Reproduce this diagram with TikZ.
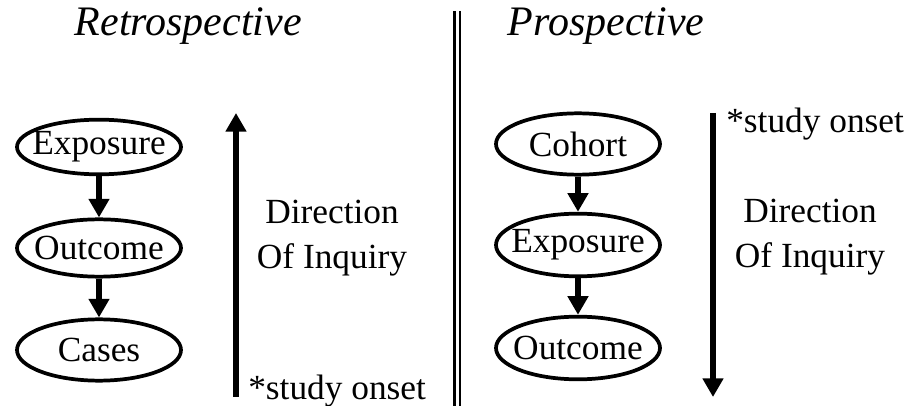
\documentclass[tikz,border=0pt]{standalone}
\usepackage{fontspec}
\setmainfont{Liberation Serif}
\usetikzlibrary{shapes.geometric,arrows.meta}
\begin{document}
\begin{tikzpicture}[x=0.75pt, y=-0.75pt, font=\fontsize{26.5}{33.5}\selectfont, line join=round, >={Triangle[width=15pt,length=14pt]},
	oval/.style={ellipse, draw, line width=2.8pt, inner xsep=-10pt, inner ysep=0pt, minimum width=123pt},
	flow/.style={->, line width=4.2pt},
	heading/.style={font=\fontsize{31.5}{37}\selectfont\itshape, anchor=base west}]
			\useasboundingbox (0,0) rectangle (908,406);
			\draw[double, line width=1.9pt, double distance=2.25pt] (457,11)--(457,406);
			% retrospective
			\node (retro) at (70,36)[heading]{Retrospective};
			\node (expL) at (99,147)[oval, minimum height=41pt]{Exposure};
			\node (outL) at (99,248)[oval, minimum height=43pt]{Outcome};
			\node (casL) at (99,350)[oval, minimum height=46pt]{Cases};
			\draw[flow] (expL)--(outL);
			\draw[flow] (outL)--(casL);
			\coordinate (inqL0) at (236,397);
			\coordinate (inqL1) at (236,113);
			\draw[flow] (inqL0)--(inqL1);
			\node (dirL) at (332,238)[align=center]{Direction\\Of Inquiry};
			\node (onsetL) at (248,400)[anchor=base west, inner sep=0pt]{*study onset};
			% prospective
			\node (pro) at (503,36)[heading]{Prospective};
			\node (cohR) at (578,144)[oval, minimum height=46pt]{Cohort};
			\node (expR) at (578,245)[oval, minimum height=47pt]{Exposure};
			\node (outR) at (578,348)[oval, minimum height=47pt]{Outcome};
			\draw[flow] (cohR)--(expR);
			\draw[flow] (expR)--(outR);
			\coordinate (inqR0) at (713,113);
			\coordinate (inqR1) at (713,397);
			\draw[flow] (inqR0)--(inqR1);
			\node (dirR) at (810,237)[align=center]{Direction\\Of Inquiry};
			\node (onsetR) at (726,133)[anchor=base west, inner sep=0pt]{*study onset};
\end{tikzpicture}
\end{document}
